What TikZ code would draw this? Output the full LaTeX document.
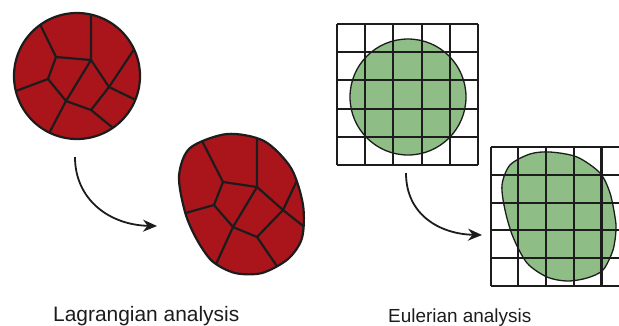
\documentclass[tikz,border=0pt]{standalone}
\usepackage{fontspec}
\setmainfont{Liberation Sans}
\usetikzlibrary{arrows.meta}

\definecolor{cellred}{RGB}{170,21,28}
\definecolor{fluidgreen}{RGB}{142,190,134}
\definecolor{inkline}{RGB}{28,28,28}

\newcommand\parcelafter{plot[smooth cycle] coordinates {(179,176) (190,148) (227,134) (264,141) (291,168) (303,205) (302,238) (288,259) (262,273) (235,273) (212,261) (196,238) (185,212)}}
\newcommand\fluidafter{plot[smooth cycle] coordinates {(502,185) (510,165) (530,154) (550,152) (577,157) (600,173) (610,193) (615,217) (616,230) (613,250) (603,270) (587,278) (567,281) (547,277) (527,263) (513,237) (505,210)}}

\begin{document}
\begin{tikzpicture}[x=1bp, y=-1bp, line join=round,
  edge/.style={draw=inkline, line width=2.2bp},
  gridline/.style={draw=inkline, line width=2.1bp},
  flow/.style={draw=inkline, line width=1.8bp, -{Stealth[length=14bp, width=12bp]}},
  caption/.style={inner sep=0pt, text=inkline, anchor=base west}]
\useasboundingbox (0,0) rectangle (619,325);

% Lagrangian: parcel before
\coordinate (pA) at (56,57);
\coordinate (pB) at (91,60);
\coordinate (pC) at (48,79);
\coordinate (pD) at (66,101);
\coordinate (pE) at (109,87);
\coordinate (pF) at (91,110);
\coordinate (pa) at (37,18);
\coordinate (pb) at (91,8);
\coordinate (pc) at (8,94);
\coordinate (pe1) at (139,42);
\coordinate (pe2) at (142,103);
\coordinate (pf) at (118,132);
\coordinate (pd) at (45,141);

\fill[cellred] (77,76) circle [radius=63];
\begin{scope}
  \clip (77,76) circle [radius=63];
  \draw[edge] (pa) -- (pA) -- (pB) -- (pb);
  \draw[edge] (pc) -- (pC) -- (pA);
  \draw[edge] (pC) -- (pD) -- (pd);
  \draw[edge] (pD) -- (pB) -- (pE) -- (pe1);
  \draw[edge] (pE) -- (pe2);
  \draw[edge] (pE) -- (pF) -- (pf);
  \draw[edge] (pF) -- (pD);
\end{scope}
\draw[edge] (77,76) circle [radius=63];

% Lagrangian: parcel after
\coordinate (qA) at (223,182);
\coordinate (qB) at (257,187);
\coordinate (qC) at (214,205);
\coordinate (qD) at (233,227);
\coordinate (qE) at (283,210);
\coordinate (qF) at (257,237);
\coordinate (qa) at (199,135);
\coordinate (qb) at (257,130);
\coordinate (qc) at (175,216);
\coordinate (qe1) at (302,170);
\coordinate (qe2) at (312,233);
\coordinate (qf) at (283,275);
\coordinate (qd) at (212,273);

\fill[cellred] \parcelafter;
\begin{scope}
  \clip \parcelafter;
  \draw[edge] (qa) -- (qA) -- (qB) -- (qb);
  \draw[edge] (qc) -- (qC) -- (qA);
  \draw[edge] (qC) -- (qD) -- (qd);
  \draw[edge] (qD) -- (qB) -- (qE) -- (qe1);
  \draw[edge] (qE) -- (qe2);
  \draw[edge] (qE) -- (qF) -- (qf);
  \draw[edge] (qF) -- (qD);
\end{scope}
\draw[edge] \parcelafter;

\coordinate (pstart) at (75,157);
\coordinate (pend) at (157,226);
\draw[flow] (pstart) .. controls (75,200) and (110,225) .. (pend);

% Eulerian: fixed grid
\filldraw[fill=fluidgreen, draw=inkline, line width=1.3bp] (408,97) circle [radius=58];
\foreach \i in {0,...,5} {
  \draw[gridline] (337+28.2*\i,24) -- (337+28.2*\i,165);
  \draw[gridline] (337,24+28.2*\i) -- (478,24+28.2*\i);
}

\begin{scope}
  \clip (0,0) rectangle (619,325);
  \filldraw[fill=fluidgreen, draw=inkline, line width=1.3bp] \fluidafter;
  \foreach \i in {0,...,5} {
    \draw[gridline] (490.7+27.7*\i,147.3) -- (490.7+27.7*\i,286);
    \draw[gridline] (490.7,147.3+27.7*\i) -- (629.2,147.3+27.7*\i);
  }
\end{scope}

\coordinate (estart) at (406,173);
\coordinate (eend) at (482,235);
\draw[flow] (estart) .. controls (406,215) and (440,234) .. (eend);

\node[caption, font=\fontsize{21}{24}\selectfont] (lagr) at (53,321) {Lagrangian analysis};
\node[caption, font=\fontsize{19}{22}\selectfont] (euler) at (388,322) {Eulerian analysis};
\end{tikzpicture}
\end{document}
